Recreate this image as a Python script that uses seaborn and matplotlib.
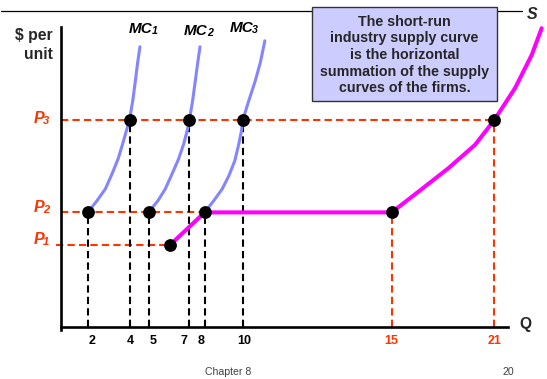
import numpy as np
import matplotlib
matplotlib.use("Agg")
import matplotlib.pyplot as plt
import seaborn as sns
from matplotlib.transforms import ScaledTranslation
from matplotlib.patches import Rectangle
from matplotlib.lines import Line2D

# ---------------- data ----------------
P1, P2, P3 = 2.73, 3.82, 6.90
price_levels = [P1, P2, P3]
price_names = ["P", "P", "P"]
price_subs = ["1", "2", "3"]

mc1_q = [2.0, 2.44, 2.84, 3.16, 3.45, 3.67, 3.85, 4.0, 4.17, 4.31, 4.43, 4.55]
mc1_p = [3.82, 4.21, 4.60, 5.10, 5.60, 6.10, 6.54, 6.90, 7.54, 8.21, 8.82, 9.34]
mc2_q = [5.0, 5.46, 5.82, 6.15, 6.47, 6.72, 6.89, 7.0, 7.21, 7.39, 7.55, 7.70]
mc2_p = [3.82, 4.21, 4.60, 5.10, 5.60, 6.10, 6.54, 6.90, 7.54, 8.21, 8.82, 9.34]
mc3_q = [6.05, 8.0, 8.48, 8.92, 9.27, 9.58, 9.79, 9.93, 10.0, 10.20, 10.42, 10.59, 10.74]
mc3_p = [2.73, 3.82, 4.21, 4.60, 5.04, 5.54, 6.10, 6.54, 6.90, 7.54, 8.21, 8.82, 9.54]
s_q = [6.05, 8.0, 15.0, 16.56, 18.31, 19.87, 21.0, 22.21, 23.19, 23.77]
s_p = [2.73, 3.82, 3.82, 4.51, 5.29, 6.07, 6.90, 7.96, 9.07, 9.96]

firm_q_at_p2 = [2, 5, 8]
firm_q_at_p3 = [4, 7, 10]
industry_q_at_p2 = 15
industry_q_at_p3 = 21
q_at_p1 = 6.05

tick_values = [2, 4, 5, 7, 8, 10, 15, 21]
tick_labels = ["2", "4", "5", "7", "8", "10", "15", "21"]
mc_names = ["MC", "MC", "MC"]
mc_subs = ["1", "2", "3"]
box_text = ("The short-run\nindustry supply curve\nis the horizontal\n"
            "summation of the supply\ncurves of the firms.")

# ---------------- style ----------------
sns.set_style("white")
plt.rcParams["font.family"] = ["Liberation Sans", "DejaVu Sans"]

RED = "#FF3300"
MC_COL = "#8585FF"
S_COL = "#FF00FF"
DASH = (0, (3.5, 2.0))

W, H = 547, 379
fig = plt.figure(figsize=(W / 100, H / 100), dpi=100)
ax = fig.add_axes([0, 0, 1, 1])
ax.set_facecolor("white")

# non-uniform quantity axis spacing (as drawn on the slide)
q_knots = [-10, 0, 2, 4, 5, 7, 8, 10, 15, 21, 40]
axis_units = [-72.5, 61, 87.8, 129.5, 148.5, 189.4, 204.6, 242.8, 391.7, 494.3, 819.2]
fwd = lambda q: np.interp(q, q_knots, axis_units)
inv = lambda u: np.interp(u, axis_units, q_knots)
ax.set_xscale("function", functions=(fwd, inv))

# ---------------- guide lines ----------------
ax.hlines(P3, 0, industry_q_at_p3, colors=RED, linestyles=DASH, lw=1.5, zorder=1)
ax.hlines(P2, 0, industry_q_at_p2, colors=RED, linestyles=DASH, lw=1.5, zorder=1)
ax.hlines(P1, -0.4, q_at_p1, colors=RED, linestyles=DASH, lw=1.5, zorder=1)
ax.vlines(firm_q_at_p2, 0, P2, colors="black", linestyles=DASH, lw=1.5, zorder=1)
ax.vlines(firm_q_at_p3, 0, P3, colors="black", linestyles=DASH, lw=1.5, zorder=1)
ax.vlines([industry_q_at_p2], 0, P2, colors=RED, linestyles=DASH, lw=1.5, zorder=1)
ax.vlines([industry_q_at_p3], 0, P3, colors=RED, linestyles=DASH, lw=1.5, zorder=1)

# ---------------- curves ----------------
for qs, ps in [(mc1_q, mc1_p), (mc2_q, mc2_p), (mc3_q, mc3_p)]:
    sns.lineplot(x=qs, y=ps, sort=False, estimator=None, color=MC_COL,
                 lw=2.2, ax=ax, zorder=3)
sns.lineplot(x=s_q, y=s_p, sort=False, estimator=None, color=S_COL,
             lw=2.9, ax=ax, zorder=4)

dots_q = firm_q_at_p2 + [industry_q_at_p2] + firm_q_at_p3 + [industry_q_at_p3] + [q_at_p1]
dots_p = [P2] * 4 + [P3] * 4 + [P1]
sns.scatterplot(x=dots_q, y=dots_p, s=85, color="black", edgecolor="black",
                linewidth=0, ax=ax, zorder=6)

# ---------------- axes ----------------
ax.set_xlim(inv(0), inv(W))
ax.set_ylim((327 - H) / 30, 327 / 30)
for side in ["top", "right"]:
    ax.spines[side].set_visible(False)
ax.spines["left"].set_position(("data", 0))
ax.spines["bottom"].set_position(("data", 0))
ax.spines["left"].set_bounds(-0.1, 10.0)
ax.spines["bottom"].set_bounds(0, 21.8)
for side in ["left", "bottom"]:
    ax.spines[side].set_linewidth(1.9)
    ax.spines[side].set_color("black")
    ax.spines[side].set_zorder(2)
ax.set_xticks([])
ax.set_yticks([])
ax.set_xlabel("")
ax.set_ylabel("")

PX = 0.01  # one pixel in inches at 100 dpi

# quantity labels under the axis (small nudges as on the slide)
nudges_px = [4, 1, 5, -5.5, -3.6, 1, 0, 0]
for q, lab, dx in zip(tick_values, tick_labels, nudges_px):
    col = RED if q in (industry_q_at_p2, industry_q_at_p3) else "black"
    tr = ax.transData + ScaledTranslation(dx * PX, -14 * PX, fig.dpi_scale_trans)
    ax.text(q, 0, lab, transform=tr, ha="center", va="center",
            fontsize=9, fontweight="bold", color=col)


def sub_label(x, y, main, sub, size, color, transform, ha="left"):
    t = ax.text(x, y, main, transform=transform, ha=ha, va="baseline",
                fontsize=size, fontstyle="italic", fontweight="bold",
                color=color, zorder=7)
    ax.annotate(sub, xy=(1, 0), xycoords=t, xytext=(-0.6, 1.3),
                textcoords="offset points", ha="left", va="baseline",
                fontsize=size * 0.7, fontstyle="italic", fontweight="bold",
                color=color, zorder=7)
    return t


# price labels (baseline nudges in pixels)
p_base_px = [-1, -0.6, 3.3]
for p, nm, sb, dy in zip(price_levels, price_names, price_subs, p_base_px):
    tr = ax.transData + ScaledTranslation(0, -dy * PX, fig.dpi_scale_trans)
    xq = inv(33.5)
    sub_label(xq, p, nm, sb, 11.5, RED, tr)


def fx(px):
    return px / W


def fy(py):
    return 1 - py / H


fig.text(fx(53), fy(45), "$ per\nunit", ha="right", va="center",
         fontsize=11.3, fontweight="bold", linespacing=1.3)
fig.text(fx(525), fy(324), "Q", ha="center", va="center",
         fontsize=11.2, fontweight="bold")
fig.text(fx(532), fy(19.3), "S", ha="center", va="baseline", fontsize=11.5,
         fontstyle="italic", fontweight="bold")
for nm, sb, (px, py) in zip(mc_names, mc_subs,
                            [(128.7, 33.3), (184.0, 35.0), (229.3, 31.7)]):
    sub_label(px / W, 1 - py / H, nm, sb, 11, "black", fig.transFigure)

# title rule and explanation box
fig.add_artist(Line2D([fx(1), fx(522)], [fy(10.7), fy(10.7)], color="black",
                      lw=0.9, transform=fig.transFigure, zorder=1))
fig.add_artist(Rectangle((fx(311.7), fy(101)), fx(497.3) - fx(311.7),
                         fy(6.7) - fy(101), transform=fig.transFigure,
                         facecolor="#CCCCFF", edgecolor="#333333", lw=1.0, zorder=2))
fig.text(fx(404.5), fy(55), box_text, ha="center", va="center", ma="center",
         fontsize=10.3, fontweight="bold", linespacing=1.25, zorder=3)

fig.text(fx(228.5), fy(372), "Chapter 8", ha="center", va="center",
         fontsize=7.6, color="#404040")
fig.text(fx(508.5), fy(372), "20", ha="center", va="center",
         fontsize=7.6, color="#404040")

fig.savefig("out.png", dpi=100)
